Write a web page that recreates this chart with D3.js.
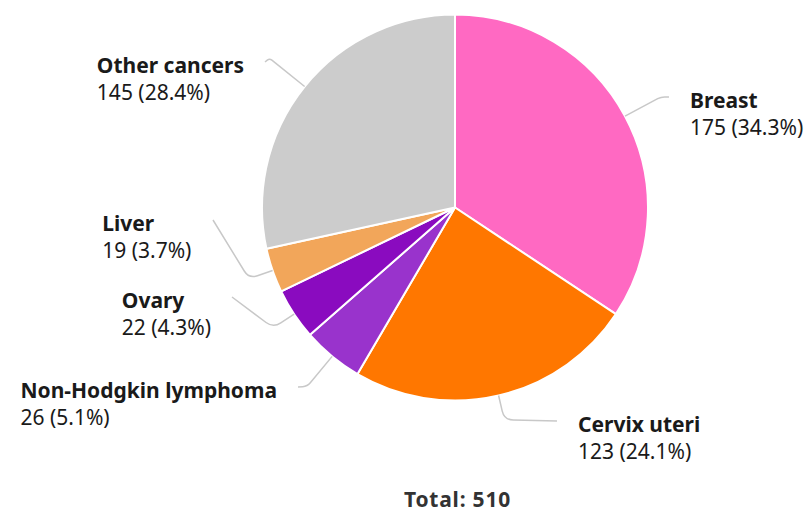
<!DOCTYPE html>
<html>
<head>
<meta charset="utf-8">
<script src="https://cdn.jsdelivr.net/npm/d3@7/dist/d3.min.js"></script>
<style>
  html, body { margin: 0; padding: 0; background: #ffffff; }
  svg { display: block; font-family: "Noto Sans", "Open Sans", sans-serif; }
</style>
</head>
<body>
<svg id="chart" width="804" height="513"></svg>
<script>
// ---- data ----
const categories = ["Breast", "Cervix uteri", "Non-Hodgkin lymphoma", "Ovary", "Liver", "Other cancers"];
const values = [175, 123, 26, 22, 19, 145];
const percents = ["34.3%", "24.1%", "5.1%", "4.3%", "3.7%", "28.4%"];
const colors = ["#ff69c2", "#ff7700", "#9933cc", "#8a0bbf", "#f2a65a", "#cccccc"];
const totalLabel = "Total: 510";

// ---- layout (not data) ----
const W = 804, H = 513;
const cx = 455, cy = 207.5, R = 193;
const FS = 21;
// radial extension of each connector before bending, and label-side end point
const elbowLen = [41, 25, 39, 25, 25, 45];
const labelEnds = [[669, 97], [557, 421], [298, 387], [232, 297], [213, 220], [265, 62]];
const labelSide = ["right", "right", "left", "left", "left", "left"];

const svg = d3.select("#chart");
const g = svg.append("g").attr("transform", `translate(${cx},${cy})`);

const data = categories.map((c, i) => ({ name: c, value: values[i], pct: percents[i], color: colors[i], i }));

const pie = d3.pie().value(d => d.value).sort(null);
const arcs = pie(data);
const arc = d3.arc().innerRadius(0).outerRadius(R);

g.selectAll("path.slice")
  .data(arcs)
  .join("path")
  .attr("class", "slice")
  .attr("d", arc)
  .attr("fill", d => d.data.color)
  .attr("stroke", "#ffffff")
  .attr("stroke-width", 2)
  .attr("stroke-linejoin", "round");

// connectors
function connectorPath(d) {
  const i = d.data.i;
  const a = (d.startAngle + d.endAngle) / 2;
  const ux = Math.sin(a), uy = -Math.cos(a);
  const p0 = [ux * R, uy * R];
  const p1 = [ux * (R + elbowLen[i]), uy * (R + elbowLen[i])];
  const p2 = [labelEnds[i][0] - cx, labelEnds[i][1] - cy];
  const d1 = Math.hypot(p1[0] - p0[0], p1[1] - p0[1]);
  const d2 = Math.hypot(p2[0] - p1[0], p2[1] - p1[1]);
  const rr = Math.min(9, d1 * 0.5, d2 * 0.5);
  const a1 = [p1[0] - (p1[0] - p0[0]) / d1 * rr, p1[1] - (p1[1] - p0[1]) / d1 * rr];
  const a2 = [p1[0] + (p2[0] - p1[0]) / d2 * rr, p1[1] + (p2[1] - p1[1]) / d2 * rr];
  const path = d3.path();
  path.moveTo(p0[0], p0[1]);
  path.lineTo(a1[0], a1[1]);
  path.quadraticCurveTo(p1[0], p1[1], a2[0], a2[1]);
  path.lineTo(p2[0], p2[1]);
  return path.toString();
}

g.selectAll("path.conn")
  .data(arcs)
  .join("path")
  .attr("class", "conn")
  .attr("d", connectorPath)
  .attr("fill", "none")
  .attr("stroke", "#c8c8c8")
  .attr("stroke-width", 1.5);

// labels
const labels = svg.append("g");
arcs.forEach(d => {
  const i = d.data.i;
  const [ex, ey] = labelEnds[i];
  const right = labelSide[i] === "right";
  const tx = right ? ex + 21 : ex - 21;
  const t = labels.append("text")
    .attr("x", tx)
    .attr("y", ey + 11)
    .attr("text-anchor", right ? "start" : "end")
    .attr("fill", "#1a1a1a")
    .attr("font-size", FS);
  t.append("tspan")
    .attr("x", tx)
    .attr("font-weight", 700)
    .text(d.data.name);
  t.append("tspan")
    .attr("x", tx)
    .attr("dy", 27)
    .attr("font-weight", 400)
    .text(`${d.data.value} (${d.data.pct})`);
});

// left-side labels are left-aligned as a block ending near the connector
labels.selectAll("text").each(function (d, k) {
  if (labelSide[k] === "left") {
    const bb = this.getBBox();
    const left = labelEnds[k][0] - 21 - bb.width;
    d3.select(this).attr("text-anchor", "start").attr("x", left)
      .selectAll("tspan").attr("x", left);
  }
});

svg.append("text")
  .attr("x", 457.5)
  .attr("y", 507)
  .attr("text-anchor", "middle")
  .attr("font-size", FS)
  .attr("font-weight", 700)
  .attr("letter-spacing", 0.8)
  .attr("fill", "#333333")
  .text(totalLabel);
</script>
</body>
</html>
